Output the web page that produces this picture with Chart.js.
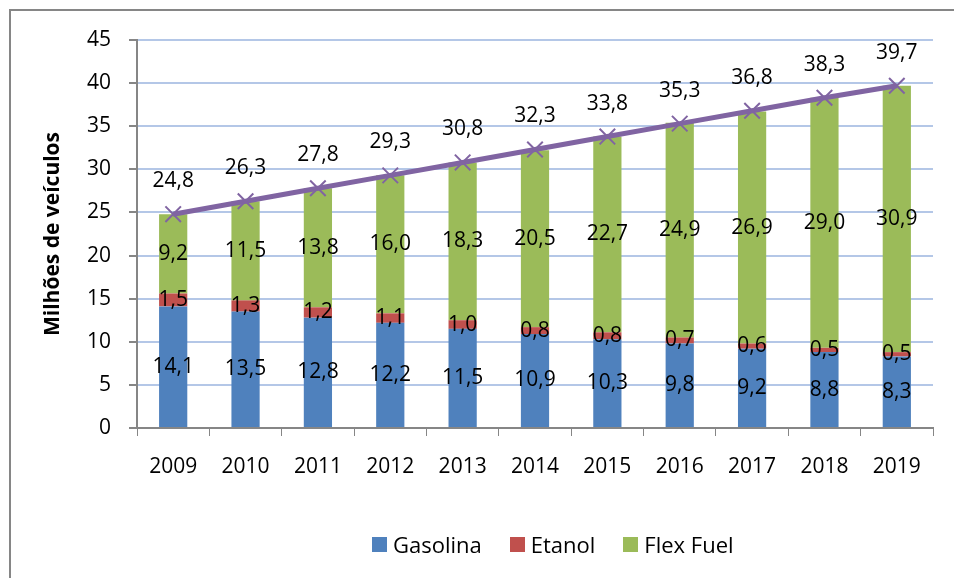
<!DOCTYPE html>
<html>
<head>
<meta charset="utf-8">
<script src="https://cdn.jsdelivr.net/npm/chart.js@4"></script>
<style>
  body { margin: 0; background: #fff; }
  #wrap { position: relative; width: 954px; height: 578px; }
  #legend { position: absolute; left: 372px; top: 529px; display: flex; font: 22px "Open Sans", sans-serif; color: #000; }
  #legend span.item { display: flex; align-items: center; margin-right: 28px; }
  #legend i { display: inline-block; width: 15px; height: 15px; margin-right: 6px; }
</style>
</head>
<body>
<div id="wrap">
  <canvas id="chart" width="954" height="578"></canvas>
  <div id="legend"></div>
</div>
<script>
const years = ["2009", "2010", "2011", "2012", "2013", "2014", "2015", "2016", "2017", "2018", "2019"];
const gasolina = [14.1, 13.5, 12.8, 12.2, 11.5, 10.9, 10.3, 9.8, 9.2, 8.8, 8.3];
const etanol = [1.5, 1.3, 1.2, 1.1, 1.0, 0.8, 0.8, 0.7, 0.6, 0.5, 0.5];
const flexFuel = [9.2, 11.5, 13.8, 16.0, 18.3, 20.5, 22.7, 24.9, 26.9, 29.0, 30.9];
const total = [24.8, 26.3, 27.8, 29.3, 30.8, 32.3, 33.8, 35.3, 36.8, 38.3, 39.7];

const font = '"Open Sans", sans-serif';
const fmt = v => v.toFixed(1).replace(".", ",");

// draws the value labels like excel does
const labelsPlugin = {
    id: "valueLabels",
    afterDatasetsDraw(chart) {
        const ctx = chart.ctx;
        ctx.save();
        ctx.font = "21px " + font;
        ctx.fillStyle = "#000";
        ctx.textAlign = "center";
        ctx.textBaseline = "middle";
        chart.data.datasets.forEach((ds, i) => {
            const meta = chart.getDatasetMeta(i);
            meta.data.forEach((el, j) => {
                const txt = fmt(ds.data[j]);
                if (ds.type === "line") {
                    ctx.fillText(txt, el.x, el.y - 33);
                } else {
                    ctx.fillText(txt, el.x, (el.y + el.base) / 2);
                }
            });
        });
        ctx.restore();
    }
};

const borderPlugin = {
    id: "outerBorder",
    beforeDraw(chart) {
        const ctx = chart.ctx;
        ctx.save();
        ctx.fillStyle = "#fff";
        ctx.fillRect(0, 0, chart.width, chart.height);
        ctx.strokeStyle = "#868686";
        ctx.lineWidth = 2;
        ctx.strokeRect(10, 10, 960, 600);
        ctx.restore();
    }
};

const chart = new Chart(document.getElementById("chart"), {
    data: {
        labels: years,
        datasets: [
            { type: "line", label: "Total", data: total, borderColor: "#8064A2", borderWidth: 5,
              pointStyle: "crossRot", pointRadius: 11, pointBorderWidth: 2, pointBorderColor: "#8064A2",
              pointBackgroundColor: "#8064A2", order: 0, stack: "line" },
            { type: "bar", label: "Gasolina", data: gasolina, backgroundColor: "#4F81BD", order: 1, stack: "s" },
            { type: "bar", label: "Etanol", data: etanol, backgroundColor: "#C0504D", order: 1, stack: "s" },
            { type: "bar", label: "Flex Fuel", data: flexFuel, backgroundColor: "#9BBB59", order: 1, stack: "s" }
        ]
    },
    options: {
        responsive: false,
        animation: false,
        layout: { padding: { left: 40, top: 40, right: 21, bottom: 0 } },
        datasets: { bar: { barPercentage: 0.39, categoryPercentage: 1 } },
        plugins: { legend: { display: false }, tooltip: { enabled: false } },
        scales: {
            x: {
                stacked: true,
                offset: true,
                grid: { offset: true, drawOnChartArea: false, tickLength: 8, color: "#868686" },
                border: { color: "#868686", width: 2 },
                ticks: { color: "#000", font: { family: font, size: 21 }, padding: 18, maxRotation: 0 },
                afterFit(scale) { scale.height = 150; }
            },
            y: {
                stacked: true,
                min: 0, max: 45,
                grid: { color: "#B4C7E7", lineWidth: 2, tickLength: 8, tickColor: "#868686" },
                border: { color: "#868686", width: 2 },
                ticks: { stepSize: 5, color: "#000", font: { family: font, size: 21 }, padding: 18 },
                title: { display: true, text: "Milhões de veículos", color: "#000", padding: 0,
                         font: { family: font, size: 21, weight: "bold" } },
                afterFit(scale) { scale.width = 97; }
            }
        }
    },
    plugins: [borderPlugin, labelsPlugin]
});

// legend without the total line, like the original
const legend = document.getElementById("legend");
chart.data.datasets.filter(ds => ds.type === "bar").forEach(ds => {
    const item = document.createElement("span");
    item.className = "item";
    item.innerHTML = '<i style="background:' + ds.backgroundColor + '"></i>' + ds.label;
    legend.appendChild(item);
});
</script>
</body>
</html>
